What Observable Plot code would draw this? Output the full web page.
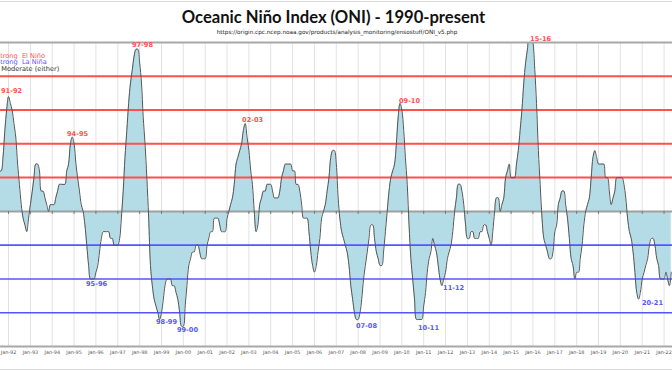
<!DOCTYPE html>
<html><head><meta charset="utf-8">
<script src="https://cdn.jsdelivr.net/npm/d3@7"></script>
<script src="https://cdn.jsdelivr.net/npm/@observablehq/plot@0.6"></script>
<style>
body{margin:0;background:#fff;}
#wrap{position:relative;width:672px;height:372px;overflow:hidden;background:#fff;}
#chart{position:absolute;left:0;top:0;}
#title{position:absolute;left:0;top:7px;width:667px;text-align:center;font:bold 16.6px Lato;color:#111;line-height:20px;}
#sub{position:absolute;left:0;top:29px;width:674px;text-align:center;font:5.7px "DejaVu Sans";color:#222;line-height:7px;}
.bord{position:absolute;left:0;width:672px;height:0;border-top:1px solid #d9d9d9;}
</style></head><body>
<div id="wrap">
<div class="bord" style="top:1px"></div>
<div class="bord" style="top:369px"></div>
<div id="chart"></div>
<div id="title">Oceanic Niño Index (ONI) - 1990-present</div>
<div id="sub">https://origin.cpc.ncep.noaa.gov/products/analysis_monitoring/ensostuff/ONI_v5.php</div>
</div>
<script>
// ONI 3-month running means, plotted at the centre month (DJF -> Jan ...)
const years = [1990,1991,1992,1993,1994,1995,1996,1997,1998,1999,2000,2001,2002,2003,2004,2005,2006,2007,2008,2009,2010,2011,2012,2013,2014,2015,2016,2017,2018,2019,2020,2021,2022];
const oni = [
 [0.1,0.2,0.3,0.3,0.2,0.2,0.3,0.3,0.4,0.3,0.4,0.4],
 [0.4,0.3,0.2,0.3,0.5,0.6,0.7,0.6,0.6,0.8,1.2,1.5],
 [1.7,1.6,1.5,1.3,1.1,0.7,0.4,0.1,-0.1,-0.2,-0.3,-0.1],
 [0.1,0.3,0.5,0.7,0.7,0.6,0.3,0.3,0.2,0.1,0.0,0.1],
 [0.1,0.1,0.2,0.3,0.4,0.4,0.4,0.4,0.6,0.7,1.0,1.1],
 [1.0,0.7,0.5,0.3,0.1,0.0,-0.2,-0.5,-0.8,-1.0,-1.0,-1.0],
 [-0.9,-0.8,-0.6,-0.4,-0.3,-0.3,-0.3,-0.3,-0.4,-0.4,-0.5,-0.5],
 [-0.5,-0.4,-0.1,0.3,0.8,1.2,1.6,1.9,2.1,2.3,2.4,2.4],
 [2.2,1.9,1.4,1.0,0.5,-0.1,-0.8,-1.1,-1.3,-1.4,-1.5,-1.6],
 [-1.5,-1.3,-1.1,-1.0,-1.0,-1.0,-1.1,-1.1,-1.2,-1.3,-1.5,-1.7],
 [-1.7,-1.4,-1.1,-0.8,-0.7,-0.6,-0.6,-0.5,-0.5,-0.6,-0.7,-0.7],
 [-0.7,-0.5,-0.4,-0.3,-0.3,-0.1,-0.1,-0.1,-0.2,-0.3,-0.3,-0.3],
 [-0.1,0.0,0.1,0.2,0.4,0.7,0.8,0.9,1.0,1.2,1.3,1.1],
 [0.9,0.6,0.4,0.0,-0.3,-0.2,0.1,0.2,0.3,0.3,0.4,0.4],
 [0.4,0.3,0.2,0.2,0.2,0.3,0.5,0.6,0.7,0.7,0.7,0.7],
 [0.6,0.6,0.4,0.4,0.3,0.1,-0.1,-0.1,-0.1,-0.3,-0.6,-0.8],
 [-0.9,-0.8,-0.6,-0.4,-0.1,0.0,0.1,0.3,0.5,0.8,0.9,0.9],
 [0.7,0.2,-0.1,-0.3,-0.4,-0.5,-0.6,-0.8,-1.1,-1.3,-1.5,-1.6],
 [-1.6,-1.5,-1.3,-1.0,-0.8,-0.6,-0.4,-0.2,-0.2,-0.4,-0.6,-0.7],
 [-0.8,-0.8,-0.6,-0.3,0.0,0.3,0.5,0.6,0.7,1.0,1.4,1.6],
 [1.5,1.2,0.8,0.4,-0.2,-0.7,-1.0,-1.3,-1.6,-1.6,-1.6,-1.6],
 [-1.4,-1.2,-0.9,-0.7,-0.6,-0.4,-0.5,-0.6,-0.8,-1.0,-1.1,-1.0],
 [-0.9,-0.7,-0.6,-0.5,-0.3,0.0,0.2,0.4,0.4,0.3,0.1,-0.2],
 [-0.4,-0.4,-0.3,-0.3,-0.4,-0.4,-0.4,-0.3,-0.3,-0.2,-0.2,-0.3],
 [-0.4,-0.5,-0.3,0.0,0.2,0.2,0.0,0.1,0.2,0.5,0.6,0.7],
 [0.5,0.5,0.5,0.7,0.9,1.2,1.5,1.9,2.2,2.4,2.6,2.6],
 [2.5,2.1,1.6,0.9,0.4,-0.1,-0.4,-0.5,-0.6,-0.7,-0.7,-0.6],
 [-0.3,-0.2,0.1,0.2,0.3,0.3,0.1,-0.1,-0.4,-0.7,-0.8,-1.0],
 [-0.9,-0.9,-0.7,-0.5,-0.2,0.0,0.1,0.2,0.5,0.8,0.9,0.8],
 [0.7,0.7,0.7,0.7,0.5,0.5,0.3,0.1,0.2,0.3,0.5,0.5],
 [0.5,0.5,0.4,0.2,-0.1,-0.3,-0.4,-0.6,-0.9,-1.2,-1.3,-1.2],
 [-1.0,-0.9,-0.8,-0.7,-0.5,-0.4,-0.4,-0.5,-0.7,-0.8,-1.0,-1.0],
 [-1.0,-0.9,-1.0,-1.1,-0.9]
];
// threshold lines
const elNinoLevels = [0.5, 1.0, 1.5, 2.0];
const laNinaLevels = [-0.5, -1.0, -1.5];
// event labels: text, position (decimal year, ONI units), colour group
const eventLabels = ["91-92","94-95","97-98","02-03","09-10","15-16","95-96","98-99","99-00","07-08","10-11","11-12","20-21"];
const eventYears  = [1992.14,1995.16,1998.13,2003.17,2010.35,2016.35,1996.03,1999.23,2000.19,2008.38,2011.22,2012.37,2021.47];
const eventValues = [1.78,1.15,2.46,1.36,1.64,2.56,-1.07,-1.64,-1.75,-1.69,-1.72,-1.13,-1.35];
const eventKind   = ["nino","nino","nino","nino","nino","nino","nina","nina","nina","nina","nina","nina","nina"];
// x tick years (Jan of each)
const tickYears = [1992,1993,1994,1995,1996,1997,1998,1999,2000,2001,2002,2003,2004,2005,2006,2007,2008,2009,2010,2011,2012,2013,2014,2015,2016,2017,2018,2019,2020,2021,2022];
const legendItems = ["Strong  El Niño","Strong  La Niña","Moderate (either)"];

const rows = [];
years.forEach((y, i) => oni[i].forEach((v, m) => rows.push({date: new Date(Date.UTC(y, m, 1)), v})));
const decToDate = d => { const y = Math.floor(d); const s = Date.UTC(y,0,1), e = Date.UTC(y+1,0,1); return new Date(s + (d - y) * (e - s)); };
const events = eventLabels.map((t, i) => ({t, date: decToDate(eventYears[i]), v: eventValues[i], kind: eventKind[i]}));
const ticks = tickYears.map(y => new Date(Date.UTC(y, 0, 1)));
const RED = "#ff4f4f", BLUE = "#5555ff";
const FF = "DejaVu Sans";

const chart = Plot.plot({
  width: 672, height: 372,
  marginTop: 42, marginBottom: 26, marginLeft: 0, marginRight: 0,
  style: {background: "transparent", fontFamily: FF},
  x: {type: "utc", domain: [new Date(Date.UTC(1991,7,20)), new Date(Date.UTC(2022,4,22))], axis: null},
  y: {domain: [-2, 2.5], axis: null},
  marks: [
    Plot.ruleX(ticks, {x: d => d, stroke: "#e2e2e2", strokeWidth: 1}),
    Plot.areaY(rows, {x: "date", y: "v", fill: "#b3dce6", curve: "catmull-rom", clip: true}),
    Plot.ruleY(elNinoLevels, {stroke: RED, strokeWidth: 2}),
    Plot.ruleY(laNinaLevels, {stroke: BLUE, strokeWidth: 1.6}),
    Plot.ruleY([0], {stroke: "#a0a0a0", strokeWidth: 2}),
    Plot.ruleX(ticks, {x: d => d, y1: 0, y2: -0.045, stroke: "#777"}),
    Plot.lineY(rows, {x: "date", y: "v", stroke: "#555", strokeWidth: 1, curve: "catmull-rom", clip: true}),
    Plot.ruleY([2.5, -2], {stroke: "#a8a8a8", strokeWidth: 2}),
    Plot.text(events, {x: "date", y: "v", text: "t", fill: d => d.kind === "nino" ? RED : BLUE, fontWeight: "bold", fontSize: 6.6, fontFamily: FF}),
    Plot.text(ticks, {x: d => d, text: d => "Jan-" + String(d.getUTCFullYear()).slice(2), frameAnchor: "bottom", dy: 7, fontSize: 4.9, fill: "#555", fontFamily: FF}),
    Plot.text([legendItems[0]], {frameAnchor: "top-left", textAnchor: "start", dx: -4.5, dy: 10.7, fill: RED, fontSize: 6.6, fontFamily: FF}),
    Plot.text([legendItems[1]], {frameAnchor: "top-left", textAnchor: "start", dx: -4.5, dy: 17.3, fill: BLUE, fontSize: 6.6, fontFamily: FF}),
    Plot.text([legendItems[2]], {frameAnchor: "top-left", textAnchor: "start", dx: 0.8, dy: 23.9, fill: "#333", fontSize: 6.6, fontFamily: FF})
  ]
});
document.getElementById("chart").appendChild(chart);
</script>
</body></html>
